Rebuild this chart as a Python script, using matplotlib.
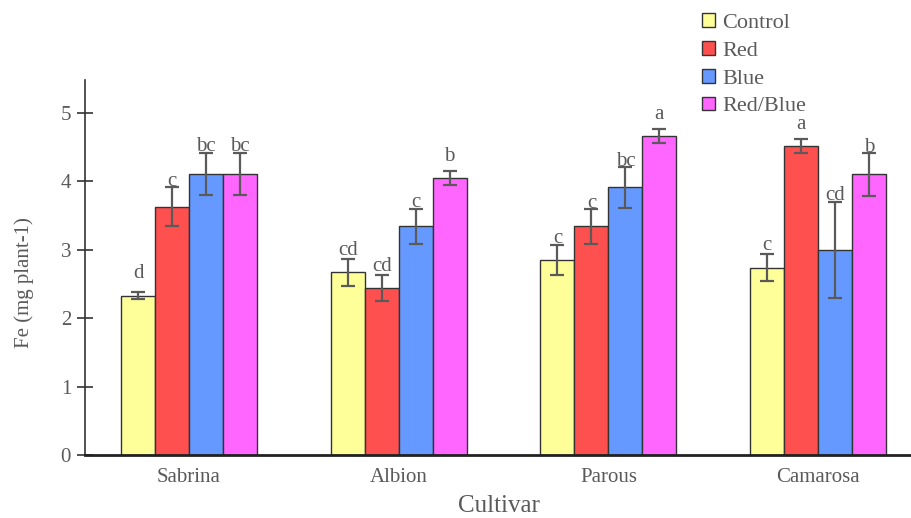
import numpy as np
import matplotlib
matplotlib.use("Agg")
import matplotlib.pyplot as plt

cultivars = ["Sabrina", "Albion", "Parous", "Camarosa"]
treatments = ["Control", "Red", "Blue", "Red/Blue"]

fe_control = [2.33, 2.67, 2.85, 2.74]
fe_red = [3.63, 2.44, 3.34, 4.52]
fe_blue = [4.11, 3.34, 3.91, 3.00]
fe_redblue = [4.11, 4.05, 4.66, 4.10]

err_control = [0.05, 0.20, 0.22, 0.20]
err_red = [0.28, 0.19, 0.25, 0.10]
err_blue = [0.31, 0.26, 0.30, 0.70]
err_redblue = [0.31, 0.10, 0.10, 0.31]

let_control = ["d", "cd", "c", "c"]
let_red = ["c", "cd", "c", "a"]
let_blue = ["bc", "c", "bc", "cd"]
let_redblue = ["bc", "b", "a", "b"]

colors = ["#FFFF99", "#FF5050", "#6699FF", "#FF66FF"]
grey = "#5a5a5a"

plt.rcParams["font.family"] = ["Liberation Serif", "DejaVu Serif"]

fig = plt.figure(figsize=(9.12, 5.18), dpi=100)
ax = fig.add_axes([85 / 912, 63 / 518, 827 / 912, 375 / 518])

x = np.arange(len(cultivars))
w = 0.162
series = [
    (fe_control, err_control, let_control),
    (fe_red, err_red, let_red),
    (fe_blue, err_blue, let_blue),
    (fe_redblue, err_redblue, let_redblue),
]

for i, (vals, errs, lets) in enumerate(series):
    pos = x + (i - 1.5) * w
    ax.bar(pos, vals, w, color=colors[i], edgecolor="#333333", linewidth=1,
           label=treatments[i], zorder=2)
    ax.errorbar(pos, vals, yerr=errs, fmt="none", ecolor=grey, elinewidth=1.6,
                capsize=5, capthick=1.6, zorder=3)
    for p, v, e, t in zip(pos, vals, errs, lets):
        ax.text(p, max(v + e, v + 0.23) + 0.02, t, ha="center", va="baseline",
                fontsize=15, color=grey, zorder=4)

ax.set_xlim(-0.496, 3.448)
ax.set_ylim(0, 5.48)
ax.set_xticks(x)
ax.set_xticklabels(cultivars)
ax.set_yticks([0, 1, 2, 3, 4, 5])
ax.tick_params(axis="x", length=0, labelsize=15, colors=grey, pad=9)
ax.tick_params(axis="y", direction="inout", length=12, width=1.2,
               color="#333333", labelsize=15, labelcolor=grey, pad=4)
ax.set_xlabel("Cultivar", fontsize=18, color=grey, labelpad=6)
ax.set_ylabel("Fe (mg plant-1)", fontsize=15, color=grey)
ax.yaxis.set_label_coords(-0.062, 0.461)

for s in ["top", "right"]:
    ax.spines[s].set_visible(False)
ax.spines["left"].set_color("#333333")
ax.spines["left"].set_linewidth(1.2)
ax.spines["bottom"].set_color("#222222")
ax.spines["bottom"].set_linewidth(2)

fig.legend(loc="upper left", bbox_to_anchor=(689 / 912, 1.0), frameon=False,
           fontsize=16, handlelength=0.58, handleheight=0.58, handletextpad=0.3,
           labelspacing=0.36, labelcolor=grey, borderaxespad=0.2)

fig.savefig("out.png", dpi=100)
